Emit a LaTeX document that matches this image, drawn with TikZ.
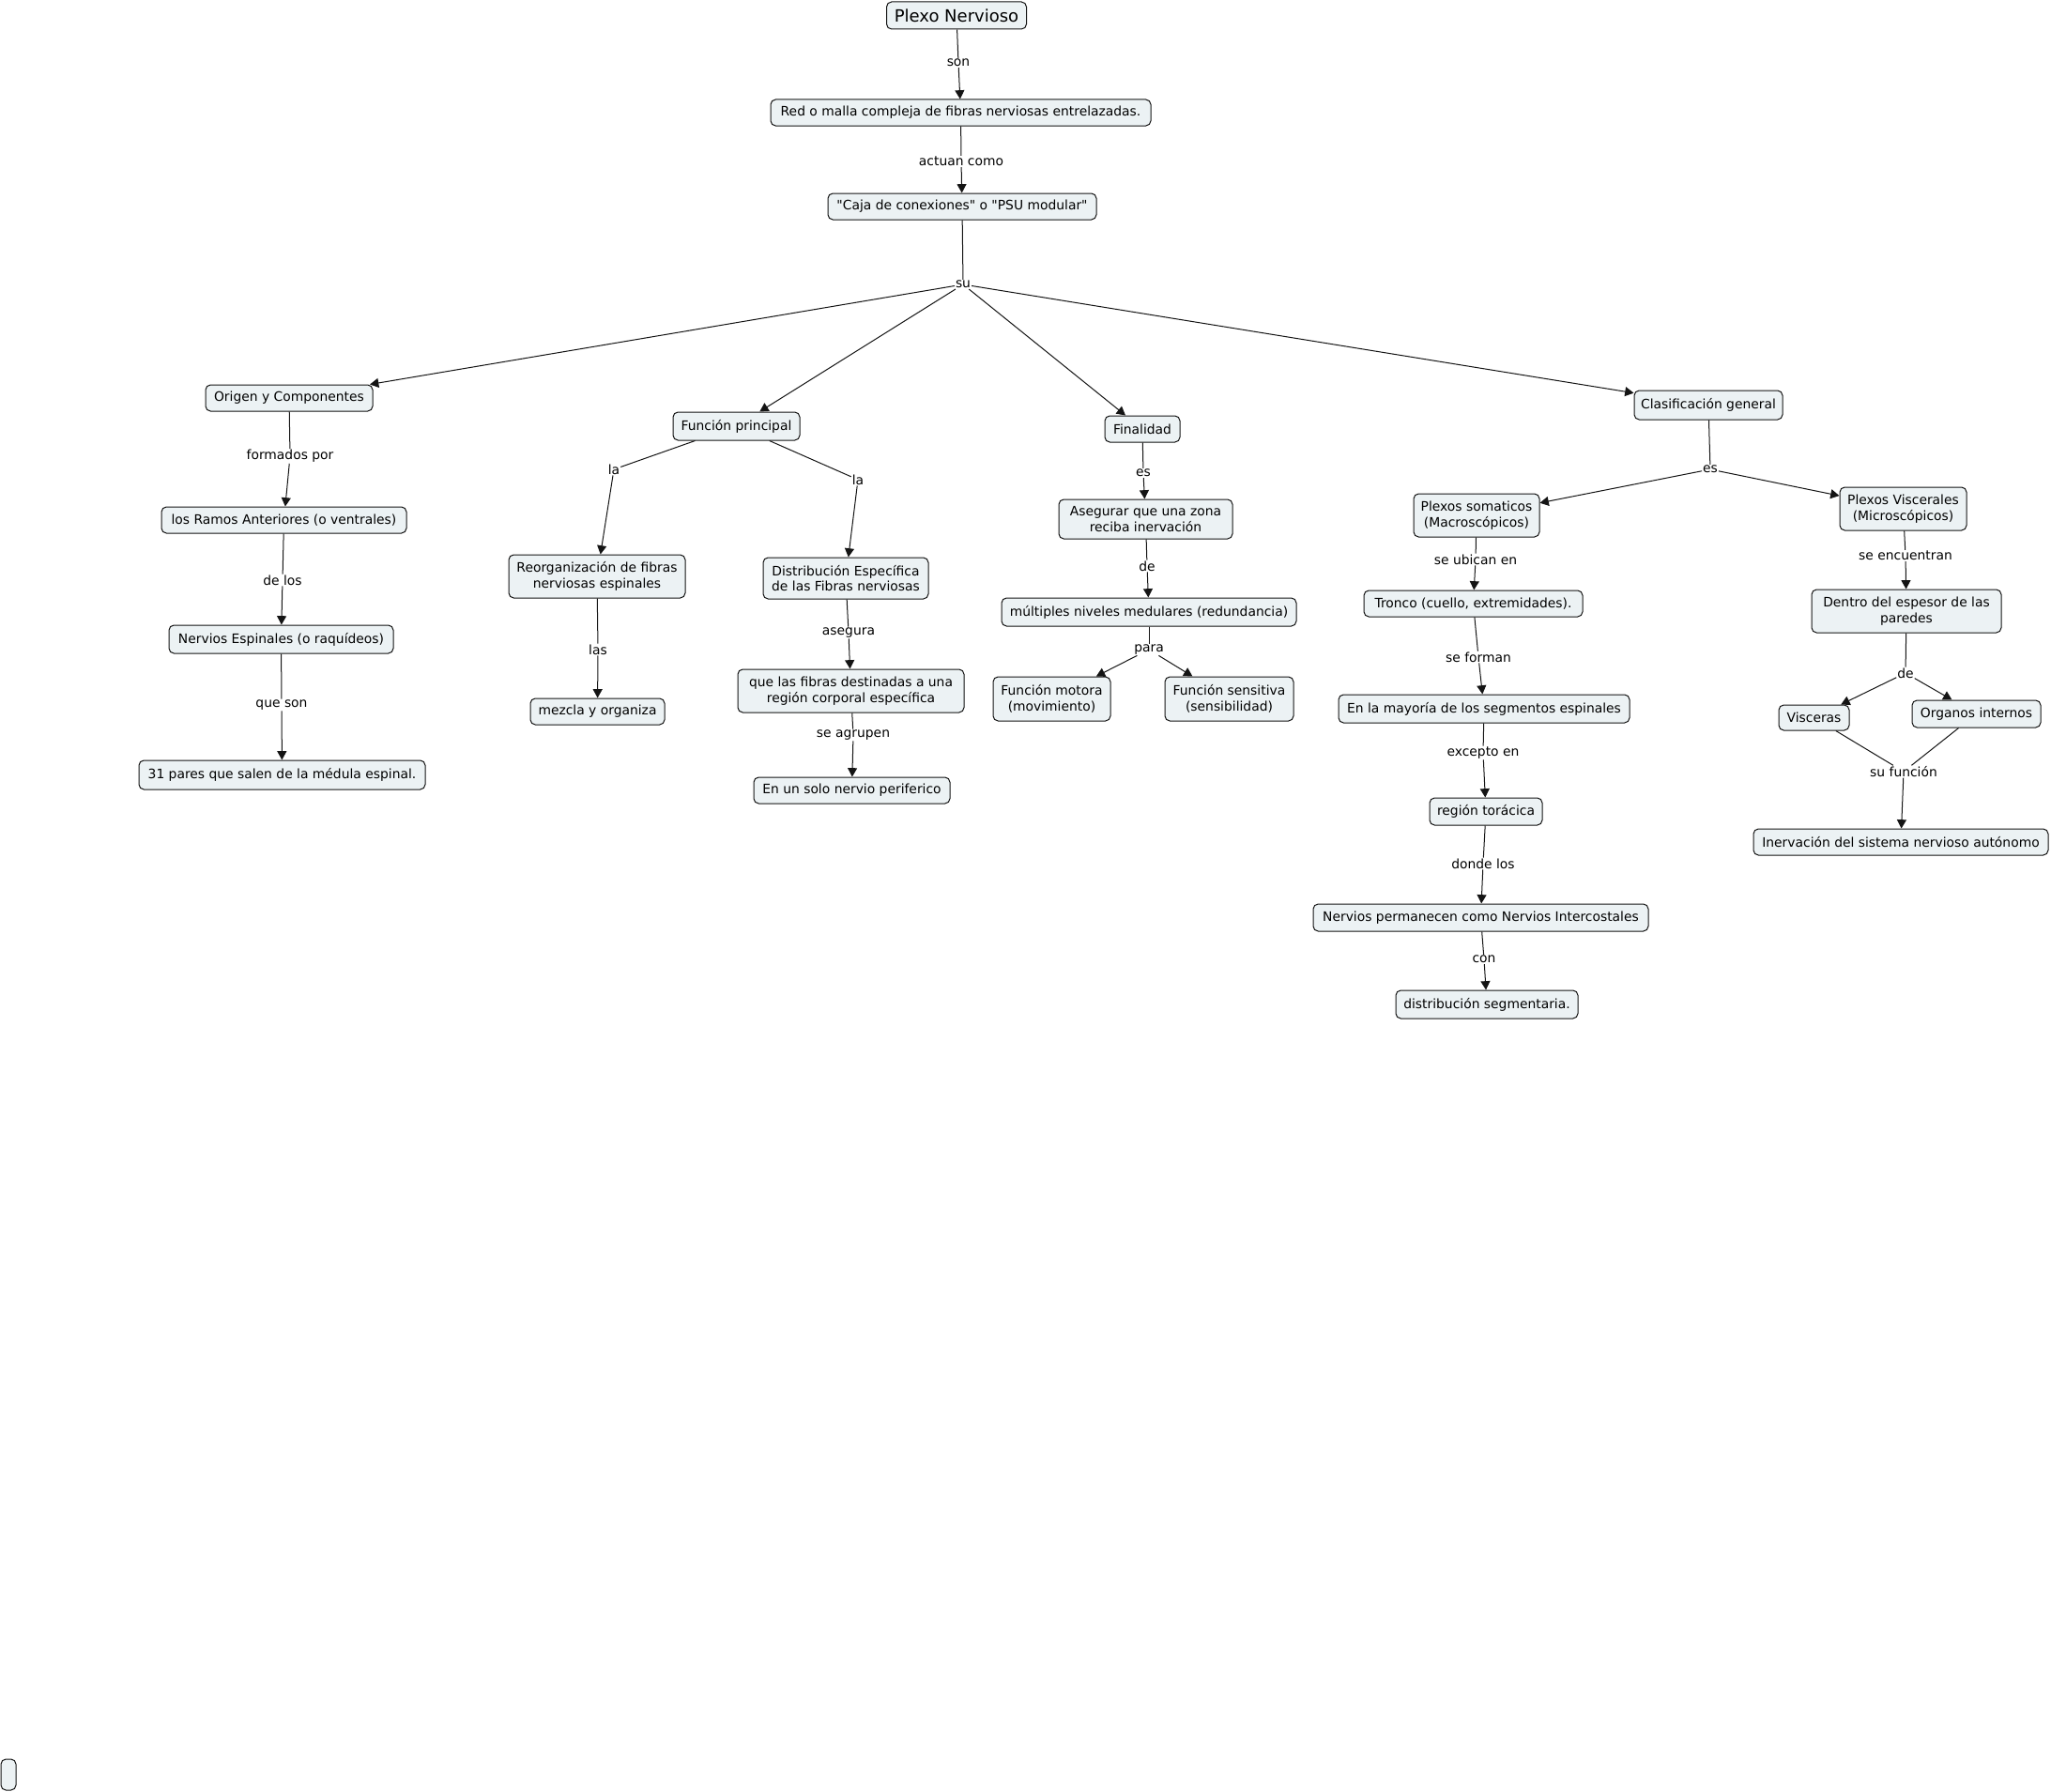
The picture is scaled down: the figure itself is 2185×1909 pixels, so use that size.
\documentclass[tikz,border=0pt]{standalone}
\usepackage{fontspec}
\setmainfont{DejaVu Sans}
\usetikzlibrary{arrows.meta}
\definecolor{nodefill}{RGB}{236,242,244}
\definecolor{edge}{RGB}{20,20,20}
\begin{document}
\begin{tikzpicture}[x=0.75pt,y=-0.75pt,
  cbox/.style 2 args={draw=edge, fill=nodefill, rounded corners=4pt, line width=0.75pt,
    inner xsep=2pt, inner ysep=1pt, align=center,
    minimum width=#1*0.75pt, minimum height=#2*0.75pt,
    font=\fontsize{10.4}{12.5}\selectfont},
  lbl/.style={fill=white, inner sep=0.6pt, font=\fontsize{10.4}{12.5}\selectfont},
  link/.style={line width=0.75pt, edge},
  arr/.style={link, -{Triangle[length=7pt,width=7.5pt]}},
]
\fill[white] (0,0) rectangle (2185,1909);
\useasboundingbox (0,0) rectangle (2185,1909);

% ---------- concept nodes ----------
\node[cbox={149}{29}, font=\fontsize{13.5}{16}\selectfont] (plexo) at (1019,16.5) {Plexo Nervioso};
\node[cbox={405}{28}] (red) at (1023.5,120) {Red o malla compleja de fibras nerviosas entrelazadas.};
\node[cbox={286}{28}] (caja) at (1025,220) {\textquotedbl Caja de conexiones\textquotedbl{} o \textquotedbl PSU modular\textquotedbl};

\node[cbox={178}{28}] (origen) at (308,424) {Origen y Componentes};
\node[cbox={261}{28}] (ramos) at (302.5,554) {los Ramos Anteriores (o ventrales)};
\node[cbox={239}{30}] (espinales) at (299.5,681) {Nervios Espinales (o raquídeos)};
\node[cbox={305}{31}] (pares) at (300.5,825.5) {31 pares que salen de la médula espinal.};

\node[cbox={135}{30}] (funcion) at (784.5,454) {Función principal};
\node[cbox={188}{46}] (reorg) at (636,614) {Reorganización de fibras\\nerviosas espinales};
\node[cbox={143}{28}] (mezcla) at (636.5,758) {mezcla y organiza};
\node[cbox={176}{44}] (distrib) at (901,616) {Distribución Específica\\de las Fibras nerviosas};
\node[cbox={241}{46}] (quelas) at (906.5,736) {que las fibras destinadas a una\\región corporal específica};
\node[cbox={209}{28}] (solo) at (907.5,842) {En un solo nervio periferico};

\node[cbox={80}{28}] (finalidad) at (1217,457) {Finalidad};
\node[cbox={185}{42}] (asegurar) at (1220.5,553) {Asegurar que una zona\\reciba inervación};
\node[cbox={314}{30}] (multiples) at (1224,652) {múltiples niveles medulares (redundancia)};
\node[cbox={125}{47}] (motora) at (1120.5,744.5) {Función motora\\(movimiento)};
\node[cbox={137}{47}] (sensitiva) at (1309.5,744.5) {Función sensitiva\\(sensibilidad)};

\node[cbox={158}{31}] (clasif) at (1820,431.5) {Clasificación general};
\node[cbox={134}{46}] (somaticos) at (1573,549) {Plexos somaticos\\(Macroscópicos)};
\node[cbox={233}{28}] (tronco) at (1569.5,643) {Tronco (cuello, extremidades).};
\node[cbox={310}{30}] (mayoria) at (1581,755) {En la mayoría de los segmentos espinales};
\node[cbox={120}{29}] (toracica) at (1583,864.5) {región torácica};
\node[cbox={357}{29}] (intercost) at (1577.5,977.5) {Nervios permanecen como Nervios Intercostales};
\node[cbox={194}{30}] (segment) at (1584,1070) {distribución segmentaria.};

\node[cbox={135}{46}] (visceral) at (2027.5,542) {Plexos Viscerales\\(Microscópicos)};
\node[cbox={202}{46}] (dentro) at (2031,651) {Dentro del espesor de las\\paredes};
\node[cbox={75}{27}] (visceras) at (1932.5,764.5) {Visceras};
\node[cbox={137}{29}] (organos) at (2105.5,760.5) {Organos internos};
\node[cbox={314}{28}] (inerv) at (2025,897) {Inervación del sistema nervioso autónomo};

\node[cbox={16}{33}] (empty) at (9,1890.5) {};

% ---------- linking phrases ----------
\node[lbl] (l-son) at (1021,67) {son};
\node[lbl] (l-actuan) at (1024,172) {actuan como};
\node[lbl] (l-su) at (1026,303) {su};
\node[lbl] (l-formados) at (309,486) {formados por};
\node[lbl] (l-delos) at (301,618) {de los};
\node[lbl] (l-queson) at (300,751) {que son};
\node[lbl] (l-la1) at (654,500) {la};
\node[lbl] (l-la2) at (914,511) {la};
\node[lbl] (l-las) at (637,692) {las};
\node[lbl] (l-asegura) at (904,674) {asegura};
\node[lbl] (l-agrupen) at (909,783) {se agrupen};
\node[lbl] (l-es1) at (1218,504) {es};
\node[lbl] (l-de1) at (1222,603) {de};
\node[lbl] (l-para) at (1224,692) {para};
\node[lbl] (l-es2) at (1822,500) {es};
\node[lbl] (l-ubican) at (1572,596) {se ubican en};
\node[lbl] (l-forman) at (1575,700) {se forman};
\node[lbl] (l-excepto) at (1580,802) {excepto en};
\node[lbl] (l-donde) at (1580,920) {donde los};
\node[lbl] (l-con) at (1581,1022) {con};
\node[lbl] (l-encuentran) at (2030,592) {se encuentran};
\node[lbl] (l-de2) at (2030,717) {de};
\node[lbl] (l-sufuncion) at (2028,822) {su función};

% ---------- connectors ----------
\draw[link] (plexo) -- (l-son);   \draw[arr] (l-son) -- (red);
\draw[link] (red) -- (l-actuan);  \draw[arr] (l-actuan) -- (caja);
\draw[link] (caja) -- (l-su);
\draw[arr] (l-su) -- (origen);
\draw[arr] (l-su) -- (funcion);
\draw[arr] (l-su) -- (finalidad);
\draw[arr] (l-su) -- (clasif);

\draw[link] (origen) -- (l-formados);  \draw[arr] (l-formados) -- (ramos);
\draw[link] (ramos) -- (l-delos);      \draw[arr] (l-delos) -- (espinales);
\draw[link] (espinales) -- (l-queson); \draw[arr] (l-queson) -- (pares);

\draw[link] (funcion) -- (l-la1);  \draw[arr] (l-la1) -- (reorg);
\draw[link] (funcion) -- (l-la2);  \draw[arr] (l-la2) -- (distrib);
\draw[link] (reorg) -- (l-las);    \draw[arr] (l-las) -- (mezcla);
\draw[link] (distrib) -- (l-asegura); \draw[arr] (l-asegura) -- (quelas);
\draw[link] (quelas) -- (l-agrupen);  \draw[arr] (l-agrupen) -- (solo);

\draw[link] (finalidad) -- (l-es1); \draw[arr] (l-es1) -- (asegurar);
\draw[link] (asegurar) -- (l-de1);  \draw[arr] (l-de1) -- (multiples);
\draw[link] (multiples) -- (l-para);
\draw[arr] (l-para) -- (motora);
\draw[arr] (l-para) -- (sensitiva);

\draw[link] (clasif) -- (l-es2);
\draw[arr] (l-es2) -- (somaticos);
\draw[arr] (l-es2) -- (visceral);
\draw[link] (somaticos) -- (l-ubican);  \draw[arr] (l-ubican) -- (tronco);
\draw[link] (tronco) -- (l-forman);     \draw[arr] (l-forman) -- (mayoria);
\draw[link] (mayoria) -- (l-excepto);   \draw[arr] (l-excepto) -- (toracica);
\draw[link] (toracica) -- (l-donde);    \draw[arr] (l-donde) -- (intercost);
\draw[link] (intercost) -- (l-con);     \draw[arr] (l-con) -- (segment);

\draw[link] (visceral) -- (l-encuentran); \draw[arr] (l-encuentran) -- (dentro);
\draw[link] (dentro) -- (l-de2);
\draw[arr] (l-de2) -- (visceras);
\draw[arr] (l-de2) -- (organos);
\draw[link] (visceras) -- (l-sufuncion);
\draw[link] (organos) -- (l-sufuncion);
\draw[arr] (l-sufuncion) -- (inerv);
\end{tikzpicture}
\end{document}
